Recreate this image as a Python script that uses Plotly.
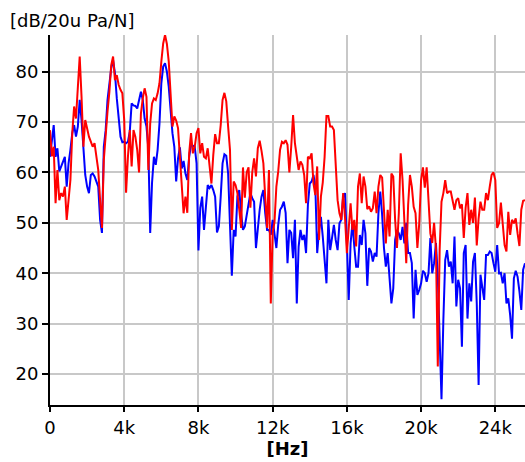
import plotly.graph_objects as go

# Frequency bin spacing (Hz) of the spectra
bin_hz = 100

red_db = [
    68.4, 63.2, 65.1, 53.9, 60.5, 54.5, 55.9, 55.2, 57.2, 50.6,   # 0
    54.5, 58.5, 67.8, 73.1, 70.7, 76.4, 83.0, 75.0, 65.1, 70.4,   # 10
    68.4, 67.1, 66.1, 65.1, 65.8, 63.5, 60.5, 54.5, 49.0, 62.5,   # 20
    68.4, 72.1, 76.0, 81.3, 83.0, 78.3, 79.3, 77.4, 76.4, 75.7,   # 30
    70.4, 56.0, 63.1, 68.4, 61.2, 68.4, 67.1, 64.5, 60.0, 71.7,   # 40
    74.7, 76.7, 75.0, 60.5, 69.7, 73.7, 74.7, 74.4, 75.7, 77.7,   # 50
    82.0, 85.6, 87.3, 85.5, 82.0, 76.4, 69.1, 71.1, 70.3, 68.8,   # 60
    63.1, 56.2, 51.9, 55.2, 52.0, 63.8, 67.8, 63.8, 65.1, 67.8,   # 70
    68.8, 63.8, 65.8, 63.1, 62.8, 64.8, 61.8, 57.8, 63.5, 67.6,   # 80
    65.8, 65.8, 69.4, 74.4, 75.8, 74.1, 69.1, 64.5, 48.6, 58.2,   # 90
    57.5, 55.9, 52.6, 49.0, 61.0, 55.0, 60.0, 61.0, 53.0, 60.0,   # 100
    62.8, 59.2, 64.8, 66.3, 64.3, 61.8, 55.0, 49.0, 60.5, 34.0,   # 110
    48.0, 50.2, 57.2, 60.2, 64.5, 66.1, 65.8, 66.4, 65.5, 60.0,   # 120
    65.1, 71.4, 65.8, 62.8, 60.5, 62.2, 61.5, 59.5, 53.9, 63.1,   # 130
    62.8, 63.8, 57.8, 55.5, 61.2, 46.6, 55.2, 58.0, 63.1, 71.2,   # 140
    71.2, 69.1, 69.1, 68.4, 61.5, 54.5, 51.9, 50.6, 55.9, 51.0,   # 150
    44.0, 49.9, 53.9, 48.6, 50.6, 45.3, 57.2, 59.8, 53.9, 59.2,   # 160
    57.2, 52.7, 53.3, 52.2, 52.9, 56.2, 51.9, 57.2, 59.5, 59.0,   # 170
    51.9, 45.9, 52.6, 47.3, 59.8, 59.2, 50.6, 45.0, 51.9, 63.8,   # 180
    58.5, 51.2, 42.0, 53.5, 59.5, 57.2, 53.2, 51.9, 45.0, 49.9,   # 190
    58.5, 61.0, 57.0, 61.0, 54.2, 47.9, 46.0, 50.0, 45.0, 21.5,   # 200
    44.6, 54.2, 55.9, 58.5, 55.9, 56.2, 56.2, 54.5, 52.6, 54.5,   # 210
    54.9, 52.9, 53.7, 47.0, 53.0, 55.9, 49.6, 52.6, 50.0, 55.0,   # 220
    45.5, 50.9, 54.2, 52.6, 52.6, 55.9, 54.5, 57.2, 59.5, 60.0,   # 230
    58.5, 49.0, 49.9, 54.0, 49.9, 45.6, 44.3, 52.2, 47.6, 50.6,   # 240
    49.9, 50.9, 47.9, 45.4, 52.6, 54.4, 54.5,                     # 250
]

blue_db = [
    63.1, 66.4, 69.4, 63.1, 64.8, 60.2, 61.2, 61.8, 63.1, 57.2,   # 0
    61.8, 64.5, 67.8, 69.4, 67.1, 69.1, 74.4, 70.4, 64.5, 59.5,   # 10
    57.2, 55.9, 59.5, 59.8, 59.2, 58.2, 57.2, 50.6, 48.0, 65.1,   # 20
    68.4, 74.4, 77.7, 80.7, 82.3, 79.7, 74.7, 70.4, 67.1, 66.0,   # 30
    66.1, 65.8, 66.1, 68.1, 73.7, 73.3, 73.2, 72.7, 74.1, 76.0,   # 40
    74.4, 70.7, 69.1, 64.8, 48.0, 58.0, 63.1, 61.5, 64.5, 69.7,   # 50
    77.7, 81.0, 81.7, 80.0, 77.0, 72.4, 67.8, 65.1, 58.2, 62.8,   # 60
    65.0, 60.8, 62.3, 59.8, 58.5, 63.1, 65.5, 65.3, 65.1, 61.8,   # 70
    44.5, 53.0, 55.2, 48.6, 53.2, 57.5, 56.9, 57.5, 56.5, 55.2,   # 80
    48.1, 49.3, 55.2, 61.8, 63.6, 63.3, 59.8, 50.0, 39.5, 48.6,   # 90
    47.3, 55.2, 56.5, 51.9, 48.6, 49.3, 51.4, 53.2, 55.9, 54.9,   # 100
    54.2, 45.0, 49.3, 52.6, 55.2, 56.5, 51.9, 48.6, 48.6, 47.6,   # 110
    50.6, 48.0, 45.0, 49.6, 52.6, 53.2, 54.2, 52.0, 42.0, 48.6,   # 120
    48.0, 43.0, 50.6, 34.0, 45.3, 48.6, 46.6, 47.6, 44.0, 53.6,   # 130
    57.8, 58.2, 59.5, 57.2, 44.0, 48.6, 51.2, 47.3, 42.0, 38.0,   # 140
    50.6, 44.6, 47.0, 49.6, 46.6, 44.6, 49.9, 50.6, 55.2, 55.9,   # 150
    46.0, 34.7, 45.9, 49.9, 45.3, 41.3, 41.3, 47.6, 45.6, 50.6,   # 160
    47.9, 37.5, 45.0, 44.3, 42.3, 44.0, 43.3, 51.9, 56.2, 51.6,   # 170
    45.0, 41.3, 44.0, 38.7, 34.0, 37.0, 46.6, 48.6, 47.9, 46.6,   # 180
    49.2, 45.9, 50.0, 44.0, 44.0, 42.0, 31.0, 40.7, 35.7, 36.7,   # 190
    38.0, 40.5, 40.0, 38.3, 40.0, 47.0, 40.0, 42.0, 46.0, 39.3,   # 200
    28.1, 15.0, 30.7, 42.6, 44.6, 41.3, 42.3, 38.0, 47.3, 33.4,   # 210
    38.7, 37.0, 25.4, 44.0, 45.6, 31.0, 38.0, 34.4, 42.3, 44.0,   # 220
    34.0, 17.8, 39.7, 37.0, 34.7, 43.6, 43.6, 44.3, 44.0, 42.0,   # 230
    40.3, 45.6, 40.0, 40.1, 38.0, 40.0, 34.0, 35.0, 31.7, 27.0,   # 240
    39.0, 40.5, 39.3, 36.4, 32.7, 40.7, 42.0,                     # 250
]

red_hz = [i * bin_hz for i in range(len(red_db))]
blue_hz = [i * bin_hz for i in range(len(blue_db))]

x_tick_vals = [0, 4000, 8000, 12000, 16000, 20000, 24000]
x_tick_text = ["0", "4k", "8k", "12k", "16k", "20k", "24k"]
y_tick_vals = [20, 30, 40, 50, 60, 70, 80]

y_title = "[dB/20u Pa/N]"
x_title = "<b>[Hz]</b>"

fig = go.Figure()
fig.add_trace(go.Scatter(x=blue_hz, y=blue_db, mode="lines",
                         line=dict(color="#0000ff", width=2), showlegend=False))
fig.add_trace(go.Scatter(x=red_hz, y=red_db, mode="lines",
                         line=dict(color="#ff0000", width=2), showlegend=False))

fig.update_layout(
    width=525, height=462,
    margin=dict(l=50, r=0, t=35, b=57),
    paper_bgcolor="white", plot_bgcolor="white",
    font=dict(family="DejaVu Sans", size=18, color="black"),
    xaxis=dict(range=[0, 25600], tickvals=x_tick_vals, ticktext=x_tick_text,
               showgrid=True, gridcolor="#c8c8c8", gridwidth=2,
               showline=True, linecolor="black", linewidth=2,
               ticks="outside", ticklen=5, tickwidth=2, tickcolor="black",
               zeroline=False,
               title=dict(text=x_title, standoff=4, font=dict(size=18))),
    yaxis=dict(range=[13.85, 87.28], tickvals=y_tick_vals,
               showgrid=True, gridcolor="#c8c8c8", gridwidth=2,
               showline=True, linecolor="black", linewidth=2,
               ticks="outside", ticklen=6, tickwidth=2, tickcolor="black",
               zeroline=False),
    annotations=[dict(text=y_title, xref="paper", yref="paper",
                      x=-42 / 475, y=1.0, xanchor="left", yanchor="bottom",
                      yshift=2, showarrow=False, font=dict(size=18))],
)

fig.write_html("out.html")
